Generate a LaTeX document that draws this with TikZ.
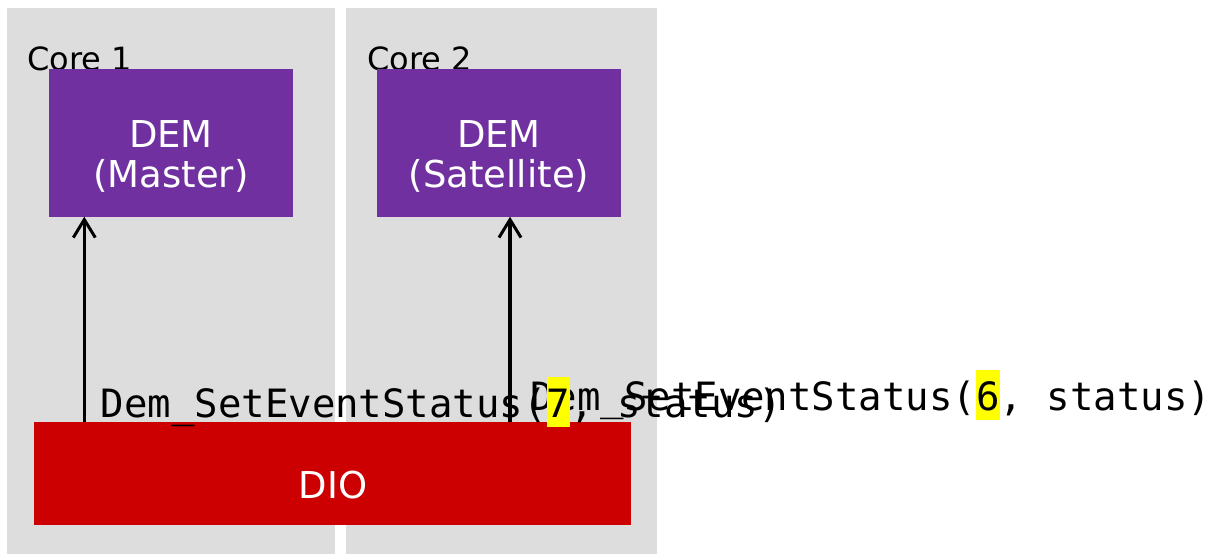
\documentclass[tikz,border=0pt]{standalone}
\usepackage{fontspec}
\setmainfont{DejaVu Sans}
\newfontfamily\monofnt{DejaVu Sans Mono}
\usetikzlibrary{arrows.meta,calc}
\definecolor{panelgray}{HTML}{DDDDDD}
\definecolor{dempurple}{HTML}{7030A0}
\definecolor{diored}{HTML}{CC0000}
\definecolor{hiyellow}{HTML}{FFFF00}
\newcommand{\hl}[1]{{\setlength{\fboxsep}{0pt}\colorbox{hiyellow}{\rule[-10pt]{0pt}{50pt}#1}}}
\begin{document}
\begin{tikzpicture}[x=1pt,y=-1pt,
  panel/.style={fill=panelgray, draw=none, inner sep=0pt, outer sep=0pt, anchor=north west},
  dembox/.style={fill=dempurple, draw=none, inner sep=0pt, outer sep=0pt, anchor=north west,
    minimum width=243.7pt, minimum height=147.7pt},
  diobox/.style={fill=diored, draw=none, inner sep=0pt, outer sep=0pt, anchor=north west,
    minimum width=597pt, minimum height=103pt},
  boxtext/.style={text=white, font=\fontsize{37}{40}\selectfont, align=center, inner sep=0pt},
  corelabel/.style={font=\fontsize{32}{36}\selectfont, anchor=base west, inner sep=0pt},
  calllabel/.style={font=\monofnt\fontsize{39}{44}\selectfont, anchor=base west, inner sep=0pt},
  arr/.style={line width=3.2pt, -{Straight Barb[length=18pt,width=22pt,line width=3pt]}}
]
\useasboundingbox (0,0) rectangle (1217,554);
% panels
\node[panel, minimum width=328pt, minimum height=546pt] (core1) at (7,8) {};
\node[panel, minimum width=310.7pt, minimum height=546pt] (core2) at (346,8) {};
\node[corelabel] (core1lbl) at (27,70) {Core 1};
\node[corelabel] (core2lbl) at (367,70) {Core 2};
% DEM boxes
\node[dembox] (dem1) at (49,69) {};
\node[dembox] (dem2) at (377.3,69) {};
\node[boxtext, anchor=base] (dem1txt) at (171,187) {DEM\\(Master)};
\node[boxtext, anchor=base] (dem2txt) at (499,187) {DEM\\(Satellite)};
% DIO
\node[diobox] (dio) at (34,422) {};
\node[boxtext, anchor=base] (diotxt) at (333,498) {DIO};
% arrows
\coordinate (a1) at ($(dem1.south west)+(35.3,0)$);
\coordinate (a2) at ($(dem2.south west)+(132.7,0)$);
\draw[arr] (dio.north -| a1) -- (a1);
\draw[arr] (dio.north -| a2) -- (a2);
% call labels
\node[calllabel] (call6) at (530,410) {Dem\_SetEventStatus(\hl{6}, status)};
\node[calllabel] (call7) at (100.5,417) {Dem\_SetEventStatus(\hl{7}, status)};
\end{tikzpicture}
\end{document}
